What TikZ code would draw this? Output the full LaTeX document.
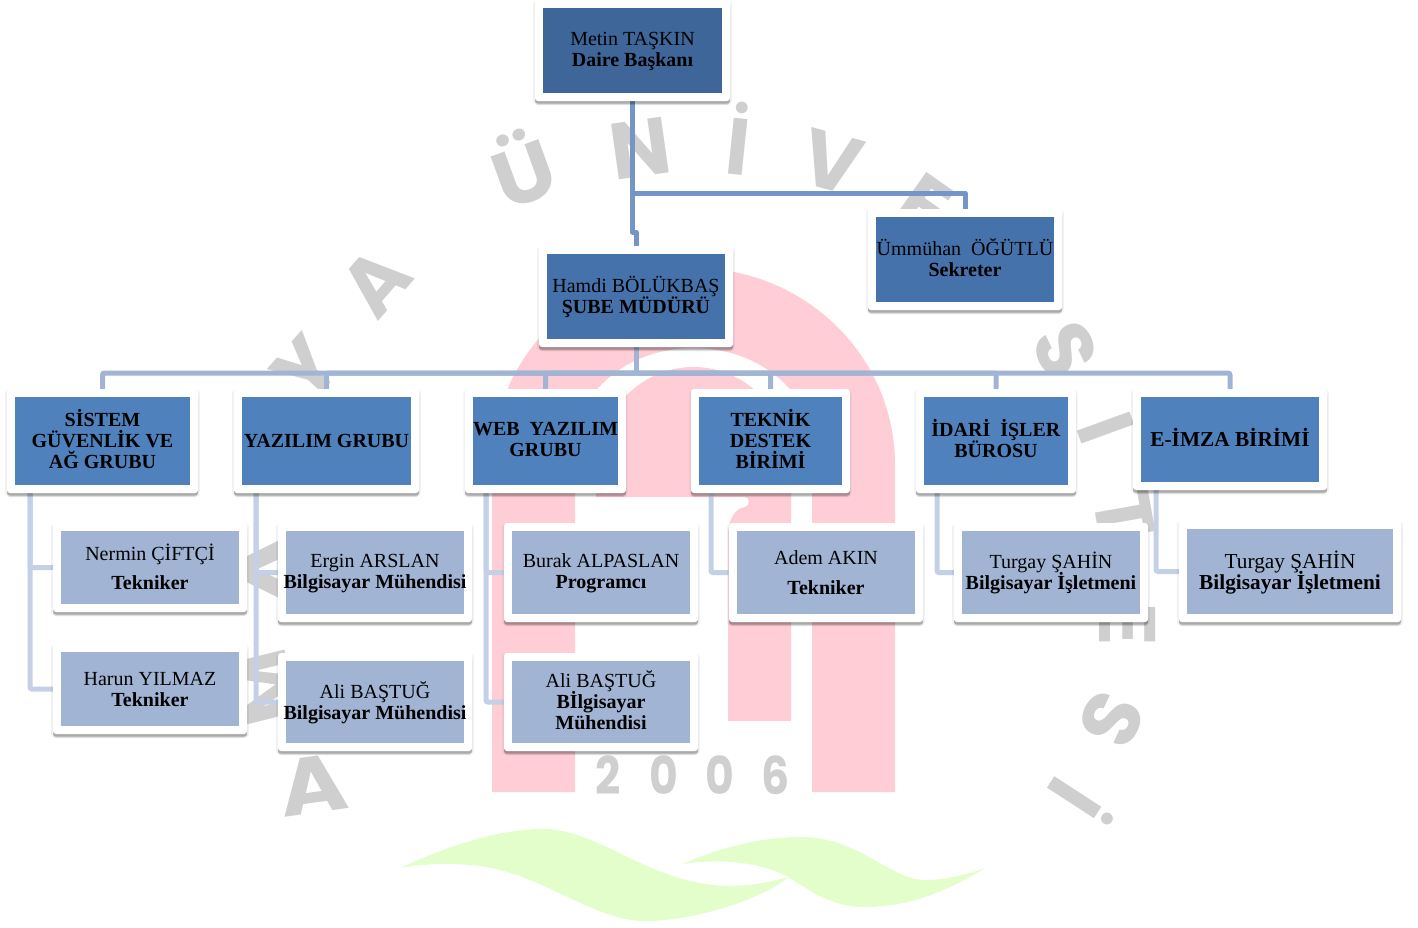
\documentclass[tikz,border=0pt]{standalone}
\usepackage{fontspec}
\usepackage{graphicx}
\setmainfont{Liberation Serif}
\newfontfamily\wmfont{Poppins}
\usetikzlibrary{shadows,calc}
\definecolor{cTop}{HTML}{3E6699}
\definecolor{cMid}{HTML}{4672AB}
\definecolor{cGroup}{HTML}{4F81BD}
\definecolor{cStaff}{HTML}{A1B4D4}
\definecolor{lTop}{HTML}{7396C7}
\definecolor{lBus}{HTML}{A1B4D4}
\definecolor{lKid}{HTML}{C4D0E5}
\definecolor{wmGray}{HTML}{CFCFCF}
\definecolor{wmPink}{HTML}{FECDD5}
\definecolor{wmGreen}{HTML}{E3FECB}
\pgfdeclarelayer{wm}
\pgfdeclarelayer{edges}
\pgfsetlayers{wm,edges,main}
\tikzset{
  cardbox/.style={rectangle,fill=white,rounded corners=3pt,inner sep=0pt,outer sep=0pt,
    general shadow={shadow xshift=0pt,shadow yshift=-2pt,shadow scale=1.02,fill=black,opacity=.05},
    general shadow={shadow xshift=0pt,shadow yshift=-4pt,fill=black,opacity=.12},
    general shadow={shadow xshift=0pt,shadow yshift=-2.5pt,fill=black,opacity=.2},
    path picture={\fill[#1,sharp corners] ([shift={(8pt,-8pt)}]path picture bounding box.north west)
       rectangle ([shift={(-8pt,8pt)}]path picture bounding box.south east);}},
  wmletter/.style={inner sep=0pt,text=wmGray,font=\wmfont\bfseries\fontsize{80}{80}\selectfont,text height=57pt,text depth=0pt},
  wmdigit/.style={inner sep=0pt,text=wmGray,font=\wmfont\bfseries\fontsize{52}{52}\selectfont},
  linkTop/.style={draw=lTop,line width=5pt,line join=round},
  linkBus/.style={draw=lBus,line width=5pt,rounded corners=2pt},
  linkKid/.style={draw=lKid,line width=5pt,rounded corners=2pt},
}
\newcommand\bigger{\fontsize{21.3}{21}\selectfont}
% name, inner x1,y1,x2,y2, colour, text centre y, text
\newcommand\cardnode[8]{%
  \pgfmathsetmacro\cw{#4-#2+16}\pgfmathsetmacro\ch{#5-#3+16}%
  \pgfmathsetmacro\ccx{(#2+#4)/2}\pgfmathsetmacro\ccy{(#3+#5)/2}%
  \pgfmathsetmacro\cd{\ccy-#7-7}%
  \node[cardbox=#6,minimum width=\cw pt,minimum height=\ch pt] (#1) at (\ccx,\ccy)
    {\makebox[0pt]{\raisebox{\cd pt}[0pt][0pt]{\fontsize{20}{21}\selectfont\parbox[c]{400pt}{\centering\lineskiplimit=-100pt\lineskip=0pt #8}}}};}
\begin{document}
\begin{tikzpicture}[x=1pt,y=-1pt]
\useasboundingbox (0,0) rectangle (1418,927);
% cards
\cardnode{top}{543}{8}{722}{93}{cTop}{49.5}{Metin TAŞKIN\\\textbf{Daire Başkanı}}
\cardnode{sube}{547}{254}{725}{339}{cMid}{295.5}{Hamdi BÖLÜKBAŞ\\\textbf{ŞUBE MÜDÜRÜ}}
\cardnode{sek}{876}{217}{1054}{302}{cMid}{255.5}{Ümmühan\ \ ÖĞÜTLÜ\\\textbf{Sekreter}}
\cardnode{sistem}{15}{397}{190}{485}{cGroup}{437}{\textbf{SİSTEM}\\\textbf{GÜVENLİK VE}\\\textbf{AĞ GRUBU}}
\cardnode{yazilim}{242}{397}{411}{485}{cGroup}{439}{\textbf{YAZILIM GRUBU}}
\cardnode{web}{473}{397}{618}{485}{cGroup}{438}{\textbf{WEB\ \ YAZILIM}\\\textbf{GRUBU}}
\cardnode{teknik}{699}{397}{842}{485}{cGroup}{437}{\textbf{TEKNİK}\\\textbf{DESTEK}\\\textbf{BİRİMİ}}
\cardnode{idari}{924}{397}{1068}{485}{cGroup}{436.5}{\textbf{İDARİ\ \ İŞLER}\\\textbf{BÜROSU}}
\cardnode{eimza}{1141}{397}{1319}{482}{cGroup}{436}{\bigger\textbf{E-İMZA BİRİMİ}}
\cardnode{nermin}{61}{531}{239}{604}{cStaff}{565.5}{Nermin ÇİFTÇİ\\[8pt]\textbf{Tekniker}}
\cardnode{harun}{61}{652}{239}{726}{cStaff}{687.5}{Harun YILMAZ\\\textbf{Tekniker}}
\cardnode{ergin}{286}{531}{464}{614}{cStaff}{571.5}{Ergin ARSLAN\\\textbf{Bilgisayar Mühendisi}}
\cardnode{ali}{286}{661}{464}{743}{cStaff}{700.5}{Ali BAŞTUĞ\\\textbf{Bilgisayar Mühendisi}}
\cardnode{burak}{512}{531}{690}{614}{cStaff}{571.5}{Burak ALPASLAN\\\textbf{Programcı}}
\cardnode{alib}{512}{661}{690}{743}{cStaff}{698.5}{Ali BAŞTUĞ\\\textbf{Bİlgisayar}\\\textbf{Mühendisi}}
\cardnode{adem}{737}{531}{915}{614}{cStaff}{571}{Adem AKIN\\[9pt]\textbf{Tekniker}}
\cardnode{turgay}{962}{531}{1140}{614}{cStaff}{571.5}{Turgay ŞAHİN\\\textbf{Bilgisayar İşletmeni}}
\cardnode{turgayb}{1187}{529}{1393}{614}{cStaff}{570.5}{\bigger Turgay ŞAHİN\\\textbf{Bilgisayar İşletmeni}}
% connectors
\begin{pgfonlayer}{edges}
\coordinate (jog) at (632.5,232);
\coordinate (branch) at (632.5,193);
\coordinate (bus) at (636,373);
\draw[linkTop] (top.south) -- (jog) -- (jog -| sube.north) -- (sube.north);
\draw[linkTop] (branch) -- (branch -| sek.north) -- (sek.north);
\draw[linkBus] (sube.south) -- (bus);
\foreach \g in {sistem,yazilim,web,teknik,idari,eimza}
  \draw[linkBus] (\g.north) |- (bus);
\draw[linkKid] ([xshift=23pt]sistem.south west) |- (nermin.west);
\draw[linkKid] ([xshift=23pt]sistem.south west) |- (harun.west);
\draw[linkKid] ([xshift=22pt]yazilim.south west) |- (ergin.west);
\draw[linkKid] ([xshift=22pt]yazilim.south west) |- (ali.west);
\draw[linkKid] ([xshift=21pt]web.south west) |- (burak.west);
\draw[linkKid] ([xshift=21pt]web.south west) |- (alib.west);
\draw[linkKid] ([xshift=20pt]teknik.south west) |- (adem.west);
\draw[linkKid] ([xshift=21pt]idari.south west) |- (turgay.west);
\draw[linkKid] ([xshift=23pt]eimza.south west) |- (turgayb.west);
\end{pgfonlayer}
% watermark
\begin{pgfonlayer}{wm}
\fill[wmPink,even odd rule] (492,792) -- (492,465)
  .. controls (492,356) and (582,268) .. (693.5,268)
  .. controls (805,268) and (895,356) .. (895,465)
  -- (895,792) -- (812,792) -- (812,447)
  .. controls (812,392) and (759,348) .. (693.5,348)
  .. controls (628,348) and (575,392) .. (575,447)
  -- (575,792) -- cycle;
\fill[wmPink] (596,497) -- (596,470)
  .. controls (596,413) and (640,367) .. (693.5,367)
  .. controls (747,367) and (791,413) .. (791,470)
  -- (791,721) -- (728,721) -- (728,535)
  .. controls (728,522) and (734,508) .. (745,507)
  .. controls (750,506) and (750,497) .. (745,497) -- cycle;
\fill[wmGreen] (400,868) .. controls (450,845) and (500,829) .. (543,829)
  .. controls (600,829) and (650,885) .. (730,886)
  .. controls (750,886) and (770,882) .. (788,877)
  .. controls (770,895) and (700,921) .. (645,921)
  .. controls (590,921) and (540,870) .. (470,865)
  .. controls (445,863) and (420,864) .. (400,868) -- cycle;
\fill[wmGreen] (682,864) .. controls (720,848) and (760,837) .. (800,837)
  .. controls (860,837) and (890,880) .. (925,880)
  .. controls (945,880) and (965,875) .. (985,868)
  .. controls (950,890) and (910,907) .. (865,907)
  .. controls (830,907) and (810,890) .. (788,877)
  .. controls (760,862) and (720,858) .. (682,864) -- cycle;
\node[wmletter,rotate=8]  (w1)  at (313,785) {\scalebox{1.15}[1]{A}};
\node[wmletter,rotate=104](w2)  at (265,688) {M};
\node[wmletter,rotate=90] (w3)  at (270,570) {\scalebox{1.35}[1]{A}};
\node[wmletter,rotate=48] (w4)  at (305,368) {Y};
\node[wmletter,rotate=49] (w5)  at (375,282) {A};
\node[wmletter,rotate=20] (w6)  at (524,174) {\scalebox{1.08}[1]{Ü}};
\node[wmletter,rotate=8]  (w7)  at (640,148) {N};
\node[wmletter,rotate=-6] (w8)  at (738,146) {İ};
\node[wmletter,rotate=-15](w9)  at (832,162) {V};
\node[wmletter,rotate=-35](w10) at (925,205) {E};
\node[wmletter,rotate=-65](w11) at (1066,350) {S};
\node[wmletter,rotate=-70](w12) at (1106,428) {İ};
\node[wmletter,rotate=-80](w13) at (1125,515) {T};
\node[wmletter,rotate=-90](w14) at (1128,624) {E};
\node[wmletter,rotate=-115](w15) at (1112,720) {S};
\node[wmletter,rotate=-123](w16) at (1075,798) {İ};
\node[wmdigit] (d1) at (608,775) {\scalebox{.85}[1]{2}};
\node[wmdigit] (d2) at (664,775) {\scalebox{.85}[1]{0}};
\node[wmdigit] (d3) at (720,775) {\scalebox{.85}[1]{0}};
\node[wmdigit] (d4) at (776,775) {\scalebox{.85}[1]{6}};
\end{pgfonlayer}
\end{tikzpicture}
\end{document}
